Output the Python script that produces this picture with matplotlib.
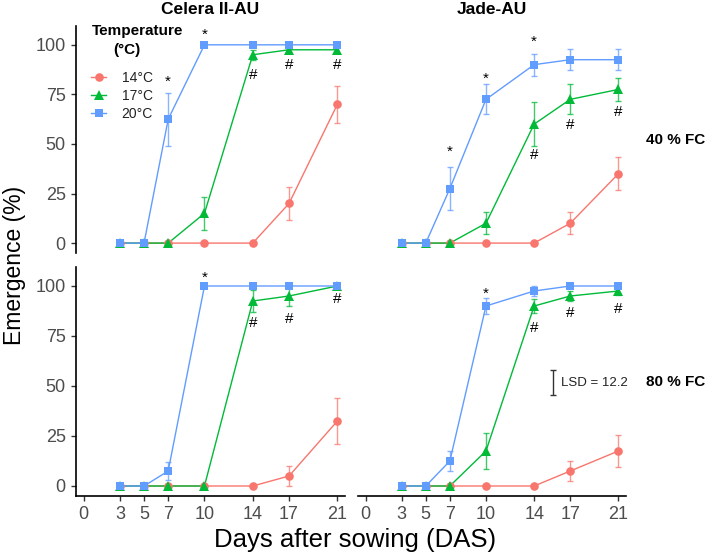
import matplotlib
matplotlib.use("Agg")
import matplotlib.pyplot as plt
from matplotlib.lines import Line2D

plt.rcParams['font.family'] = ['Liberation Sans', 'DejaVu Sans']

days = [3, 5, 7, 10, 14, 17, 21]
temps = ["14°C", "17°C", "20°C"]
colors = {"14°C": "#F8766D", "17°C": "#00BA38", "20°C": "#619CFF"}
markers = {"14°C": "o", "17°C": "^", "20°C": "s"}

# Celera II-AU, 40 % FC
cel40_mean = {"14°C": [0, 0, 0, 0, 0, 20, 70],
              "17°C": [0, 0, 0, 15, 95, 97.5, 97.5],
              "20°C": [0, 0, 62.5, 100, 100, 100, 100]}
cel40_se = {"14°C": [0, 0, 0, 0, 0, 8.4, 9.2],
            "17°C": [0, 0, 0, 8.2, 2.5, 1.5, 1.5],
            "20°C": [0, 0, 13.3, 0, 0, 0, 0]}
# Jade-AU, 40 % FC
jade40_mean = {"14°C": [0, 0, 0, 0, 0, 10, 35],
               "17°C": [0, 0, 0, 10, 60, 72.5, 77.5],
               "20°C": [0, 0, 27.5, 72.5, 90, 92.5, 92.5]}
jade40_se = {"14°C": [0, 0, 0, 0, 0, 5.5, 8.4],
             "17°C": [0, 0, 0, 5.5, 11.2, 7.6, 5.9],
             "20°C": [0, 0, 10.7, 7.6, 5.5, 5.4, 5.4]}
# Celera II-AU, 80 % FC
cel80_mean = {"14°C": [0, 0, 0, 0, 0, 5, 32.5],
              "17°C": [0, 0, 0, 0, 92.5, 95, 100],
              "20°C": [0, 0, 7.5, 100, 100, 100, 100]}
cel80_se = {"14°C": [0, 0, 0, 0, 0, 5, 11.4],
            "17°C": [0, 0, 0, 0, 5.6, 5, 1],
            "20°C": [0, 0, 4.6, 0, 0, 0, 0]}
# Jade-AU, 80 % FC
jade80_mean = {"14°C": [0, 0, 0, 0, 0, 7.5, 17.5],
               "17°C": [0, 0, 0, 17.5, 90, 95, 97.5],
               "20°C": [0, 0, 12.5, 90, 97.5, 100, 100]}
jade80_se = {"14°C": [0, 0, 0, 0, 0, 5.2, 8],
             "17°C": [0, 0, 0, 8.9, 3.3, 2.5, 2],
             "20°C": [0, 0, 5.2, 3.9, 2.5, 1, 1]}

# annotations: (day, y, symbol)
cel40_marks = [(7, 81.5, "*"), (10, 105, "*"), (14, 84.8, "#"), (17, 90, "#"), (21, 90, "#")]
jade40_marks = [(7, 46, "*"), (10, 83, "*"), (14, 101.7, "*"), (14, 44.4, "#"), (17, 59.6, "#"), (21, 66.3, "#")]
cel80_marks = [(10, 104, "*"), (14, 81.7, "#"), (17, 83.7, "#"), (21, 93.7, "#")]
jade80_marks = [(10, 95.9, "*"), (14, 79, "#"), (17, 86.7, "#"), (21, 88.7, "#")]

lsd_value = 12.2
x_ticks = [0, 3, 5, 7, 10, 14, 17, 21]
y_ticks = [0, 25, 50, 75, 100]
varieties = ["Celera II-AU", "Jade-AU"]
moisture = ["40 % FC", "80 % FC"]

W, H = 708, 558
fig = plt.figure(figsize=(W / 100, H / 100), dpi=100)


def px_axes(x0, y0, x1, y1):
    return fig.add_axes([x0 / W, 1 - y1 / H, (x1 - x0) / W, (y1 - y0) / H])


panels = {
    (0, 0): (px_axes(76, 26, 345, 253), cel40_mean, cel40_se, cel40_marks),
    (0, 1): (px_axes(358, 26, 626, 253), jade40_mean, jade40_se, jade40_marks),
    (1, 0): (px_axes(76, 267, 345, 496), cel80_mean, cel80_se, cel80_marks),
    (1, 1): (px_axes(358, 267, 626, 496), jade80_mean, jade80_se, jade80_marks),
}

for (r, c), (ax, mean, se, marks) in panels.items():
    ax.set_xlim(-0.63, 21.63)
    ax.set_ylim(-5, 109.5)
    for s in ax.spines.values():
        s.set_visible(False)
    ax.set_xticks(x_ticks)
    ax.set_yticks(y_ticks)
    ax.tick_params(axis='both', colors='#333333', length=3.8, width=1.0,
                   labelcolor='#4D4D4D', labelsize=13)
    if c == 0:
        ax.spines['left'].set_visible(True)
        ax.spines['left'].set_linewidth(1.2)
    else:
        ax.tick_params(axis='y', left=False, labelleft=False)
    if r == 1:
        ax.spines['bottom'].set_visible(True)
        ax.spines['bottom'].set_linewidth(1.2)
    else:
        ax.tick_params(axis='x', bottom=False, labelbottom=False)
    for t in temps:
        ax.plot(days, mean[t], color=colors[t], lw=1.0, zorder=2)
    for t in temps:
        ax.errorbar(days, mean[t], yerr=se[t], fmt='none', ecolor=colors[t],
                    elinewidth=1.0, capsize=2.2, capthick=1.0, alpha=0.75, zorder=3)
    for t in temps:
        ms = 7.5 if t == "17°C" else 6.2
        ax.plot(days, mean[t], linestyle='none', marker=markers[t], color=colors[t],
                markersize=ms, markeredgewidth=0, zorder=4)
    for d, y, sym in marks:
        ax.text(d, y, sym, ha='center', va='center', fontsize=11, color='black', zorder=5)

# LSD bar in bottom-right panel
axbr = panels[(1, 1)][0]
axbr.errorbar([15.6], [51.7], yerr=[lsd_value / 2], fmt='none', ecolor='#333333',
              elinewidth=1.0, capsize=2.2, capthick=1.0)
axbr.text(16.2, 51.7, f"LSD = {lsd_value}", ha='left', va='center', fontsize=9.5, color='#222222')

# Legend in top-left panel
axtl = panels[(0, 0)][0]
handles = [Line2D([0], [0], color=colors[t], marker=markers[t], lw=1.0,
                  markersize=(7.5 if t == "17°C" else 6.2), markeredgewidth=0) for t in temps]
leg = axtl.legend(handles, temps, loc='upper left',
                  bbox_to_anchor=(91 / W, 1 - 71 / H), bbox_transform=fig.transFigure,
                  frameon=False, fontsize=10, handlelength=1.1, handletextpad=1.1,
                  labelspacing=0.3, borderpad=0, borderaxespad=0)
for txt in leg.get_texts():
    txt.set_color('#222222')
fig.text(92 / W, 1 - 31.5 / H, "Temperature", ha='left', va='center', fontsize=11, fontweight='bold')
fig.text(113 / W, 1 - 50 / H, "(°C)", ha='left', va='center', fontsize=11, fontweight='bold')

# Facet labels
fig.text(210.5 / W, 1 - 10 / H, varieties[0], ha='center', va='center', fontsize=12.5, fontweight='bold')
fig.text(492 / W, 1 - 10 / H, varieties[1], ha='center', va='center', fontsize=12.5, fontweight='bold')
fig.text(676 / W, 1 - 139.5 / H, moisture[0], ha='center', va='center', fontsize=11, fontweight='bold')
fig.text(676 / W, 1 - 381.5 / H, moisture[1], ha='center', va='center', fontsize=11, fontweight='bold')

fig.text(15 / W, 1 - 265 / H, "Emergence (%)", rotation=90, ha='center', va='center', fontsize=16.5)
fig.text(355 / W, 1 - 540 / H, "Days after sowing (DAS)", ha='center', va='center', fontsize=18.5)

fig.savefig("out.png", dpi=100)
